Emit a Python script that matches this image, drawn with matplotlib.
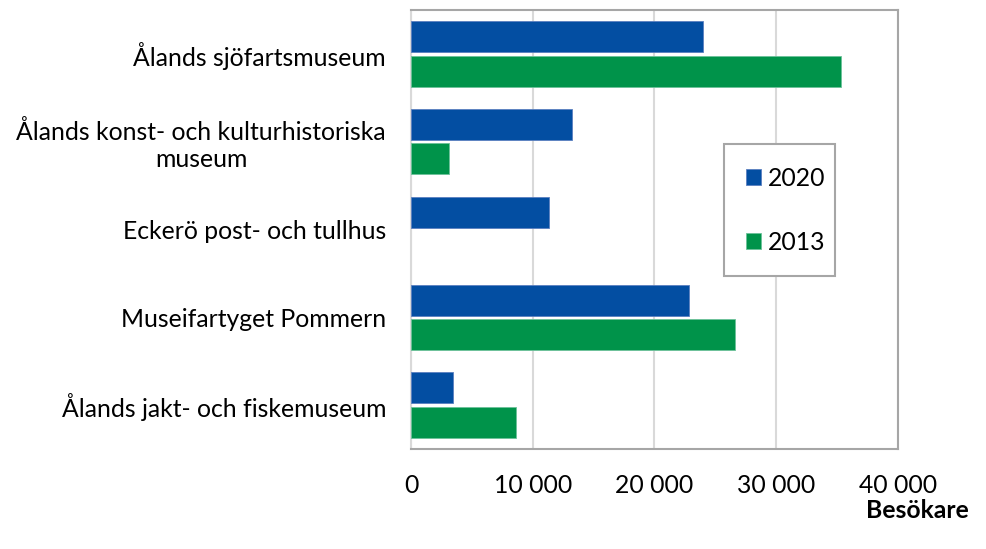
import matplotlib
matplotlib.use("Agg")
import matplotlib.pyplot as plt
from matplotlib.patches import Rectangle
import numpy as np

categories = ["Ålands sjöfartsmuseum",
              "Ålands konst- och kulturhistoriska\nmuseum",
              "Eckerö post- och tullhus",
              "Museifartyget Pommern",
              "Ålands jakt- och fiskemuseum"]
series_names = ["2020", "2013"]
values_2020 = [24000, 13250, 11350, 22850, 3450]
values_2013 = [35350, 3150, 0, 26620, 8630]
xticks = [0, 10000, 20000, 30000, 40000]
xtick_labels = ["0", "10 000", "20 000", "30 000", "40 000"]

blue = "#034EA2"
green = "#00934A"

plt.rcParams['font.family'] = ['Lato', 'DejaVu Sans']
FS = 17.8

W, H = 986, 549
fig = plt.figure(figsize=(W/100, H/100), dpi=100)
ax = fig.add_axes([411/W, 1-449/H, (897.6-411)/W, (449-10)/H])

n = len(categories)
y = np.arange(n)
h = 0.353
off = (h + 0.04) / 2
ax.barh(y - off, values_2020, height=h, color=blue, edgecolor="#5A7FC0", linewidth=0.6, label=series_names[0], zorder=3)
v13 = np.array(values_2013, dtype=float)
v13[v13 == 0] = np.nan
ax.barh(y + off, v13, height=h, color=green, edgecolor="#6CC29A", linewidth=0.6, label=series_names[1], zorder=3)

ax.set_xlim(0, 40000)
ax.set_ylim(n - 0.5, -0.5)
ax.set_xticks(xticks)
ax.set_xticklabels(xtick_labels)
ax.set_yticks(y)
ax.set_yticklabels(categories, multialignment="center")
ax.tick_params(axis="both", length=0, labelsize=FS, colors="black")
ax.tick_params(axis="x", pad=18)
ax.tick_params(axis="y", pad=18)
ax.xaxis.grid(True, color="#D9D9D9", linewidth=1.5, zorder=0)
for s in ax.spines.values():
    s.set_color("#A6A6A6")
    s.set_linewidth(1.5)
ax.spines["left"].set_color("#D9D9D9")

fig.text(969/W, 1-511/H, "Besökare", ha="right", va="center", fontsize=FS, fontweight="bold")

# legend frame drawn separately (figure pixel coords -> figure fraction)
fig.patches.append(Rectangle((724/W, 1-276/H), (835-724)/W, (276-144)/H, transform=fig.transFigure,
                             facecolor="white", edgecolor="#A6A6A6", linewidth=1.5, zorder=5))
leg = fig.legend(*ax.get_legend_handles_labels(), loc="upper left", bbox_to_anchor=(746/W, 1-167/H),
                 frameon=False, fontsize=FS, handlelength=0.6, handleheight=0.6,
                 handletextpad=0.3, labelspacing=1.65, borderpad=0, borderaxespad=0)
leg.set_zorder(6)

fig.savefig("out.png", dpi=100)
